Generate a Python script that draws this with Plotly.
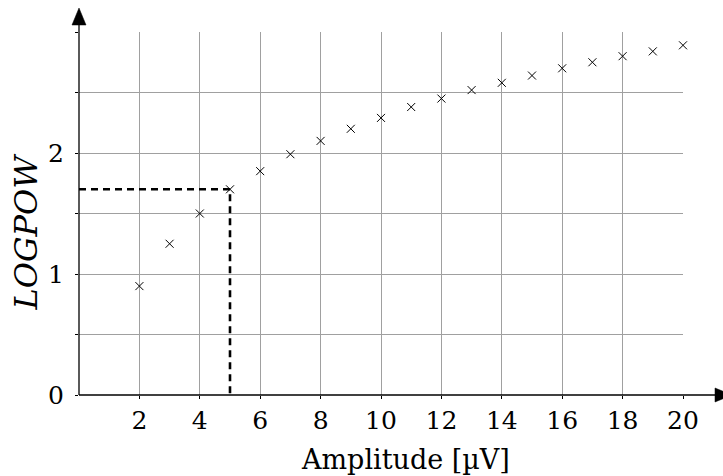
import plotly.graph_objects as go

# data
amplitude = [2, 3, 4, 5, 6, 7, 8, 9, 10, 11, 12, 13, 14, 15, 16, 17, 18, 19, 20]
logpow = [0.90, 1.25, 1.50, 1.70, 1.85, 1.99, 2.10, 2.20, 2.29, 2.38, 2.45, 2.52, 2.58, 2.64, 2.70, 2.75, 2.80, 2.84, 2.89]
guide_x = 5
guide_y = 1.70
x_ticks = [2, 4, 6, 8, 10, 12, 14, 16, 18, 20]
y_ticks = [0, 0.5, 1, 1.5, 2, 2.5, 3]
y_ticktext = ["0", "", "1", "", "2", "", ""]

FONT = "DejaVu Serif"
GRID = "#a0a0a0"

fig = go.Figure()

fig.add_trace(go.Scatter(
    x=[0, guide_x, guide_x], y=[guide_y, guide_y, 0],
    mode="lines", line=dict(color="black", width=2.6, dash="7px,5px"),
    cliponaxis=False, showlegend=False, hoverinfo="skip"))

fig.add_trace(go.Scatter(
    x=amplitude, y=logpow, mode="markers",
    marker=dict(symbol="x-thin", size=8, line=dict(color="black", width=1)),
    cliponaxis=False, showlegend=False))

# axis lines with arrowheads
fig.add_shape(type="line", xref="paper", yref="paper", x0=0, y0=0, x1=1.06, y1=0,
              line=dict(color="black", width=1.3))
fig.add_shape(type="line", xref="paper", yref="paper", x0=0, y0=0, x1=0, y1=1.03,
              line=dict(color="black", width=1.3))
fig.add_shape(type="path", xref="paper", yref="paper",
              path="M 1.053 -0.0193 L 1.081 0 L 1.053 0.0193 Z",
              fillcolor="black", line=dict(color="black", width=0.5))
fig.add_shape(type="path", xref="paper", yref="paper",
              path="M -0.0116 1.0193 L 0 1.066 L 0.0116 1.0193 Z",
              fillcolor="black", line=dict(color="black", width=0.5))

fig.add_annotation(xref="paper", yref="paper", x=0.54, y=0, yshift=-64, yanchor="middle",
                   text="Amplitude [µV]", showarrow=False,
                   font=dict(family=FONT, size=27, color="black"))
fig.add_annotation(xref="paper", yref="paper", x=0, xshift=-54, y=0.5, yshift=-18,
                   xanchor="center", yanchor="middle", textangle=-90,
                   text="<i>LOGPOW</i>", showarrow=False,
                   font=dict(family=FONT, size=32, color="black"))

fig.update_xaxes(range=[0, 20], tickvals=x_ticks, showgrid=True, gridcolor=GRID, gridwidth=1,
                 zeroline=False, showline=False, ticks="outside", ticklen=3, tickcolor="black",
                 tickfont=dict(family=FONT, size=25, color="black"))
fig.update_yaxes(range=[0, 3], tickvals=y_ticks, ticktext=y_ticktext, showgrid=True,
                 gridcolor=GRID, gridwidth=1, zeroline=False, showline=False,
                 ticks="outside", ticklen=3, tickcolor="black", ticklabelstandoff=6,
                 tickfont=dict(family=FONT, size=25, color="black"))

fig.update_layout(width=723, height=476, margin=dict(l=79, r=40, t=32, b=81),
                  plot_bgcolor="white", paper_bgcolor="white")

fig.write_html("out.html")
